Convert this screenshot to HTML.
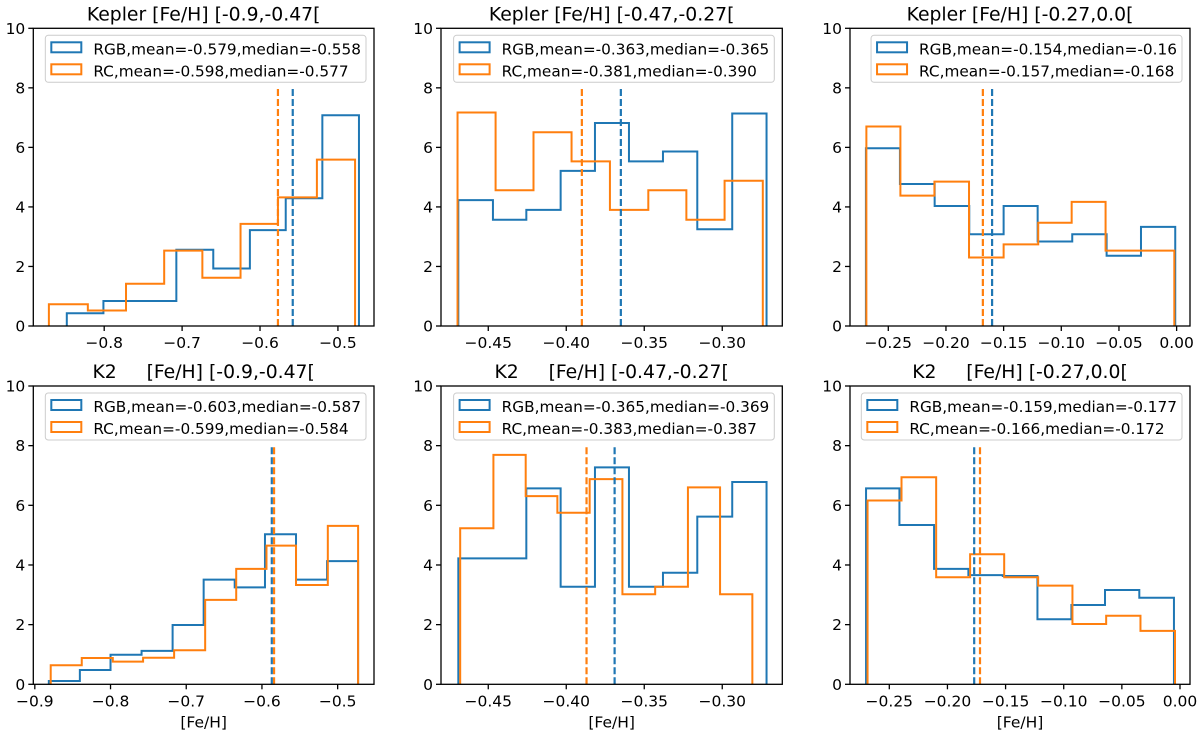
<!DOCTYPE html>
<html><head><meta charset="utf-8"><style>
html,body{margin:0;padding:0;background:#fff;}
svg{display:block;font-family:"DejaVu Sans","Liberation Sans",sans-serif;}
</style></head><body>
<svg id="fig" width="1200" height="733" viewBox="0 0 1200 733" xmlns="http://www.w3.org/2000/svg"></svg>
<script>
// ---- data ----
const panelTitles = ["Kepler [Fe/H] [-0.9,-0.47[", "Kepler [Fe/H] [-0.47,-0.27[", "Kepler [Fe/H] [-0.27,0.0[",
  "K2     [Fe/H] [-0.9,-0.47[", "K2     [Fe/H] [-0.47,-0.27[", "K2     [Fe/H] [-0.27,0.0["];
const xDomains = [[-0.891,-0.4537],[-0.4803,-0.2615],[-0.2832,0.0116],[-0.902,-0.452],[-0.4803,-0.2615],[-0.2838,0.0086]];
const xTicks = [[-0.8,-0.7,-0.6,-0.5],[-0.45,-0.40,-0.35,-0.30],[-0.25,-0.20,-0.15,-0.10,-0.05,0.00],
  [-0.9,-0.8,-0.7,-0.6,-0.5],[-0.45,-0.40,-0.35,-0.30],[-0.25,-0.20,-0.15,-0.10,-0.05,0.00]];
const xTickLabels = [["−0.8","−0.7","−0.6","−0.5"],["−0.45","−0.40","−0.35","−0.30"],["−0.25","−0.20","−0.15","−0.10","−0.05","0.00"],
  ["−0.9","−0.8","−0.7","−0.6","−0.5"],["−0.45","−0.40","−0.35","−0.30"],["−0.25","−0.20","−0.15","−0.10","−0.05","0.00"]];
const yTicks = [0,2,4,6,8,10];
const rgbEdges = [
  [-0.848,-0.801,-0.754,-0.7074,-0.660,-0.613,-0.567,-0.520,-0.473],
  [-0.4692,-0.447,-0.4256,-0.4036,-0.3816,-0.3598,-0.338,-0.316,-0.2936,-0.2716],
  [-0.2694,-0.2399,-0.2098,-0.1798,-0.150,-0.1205,-0.0905,-0.0607,-0.0309,-0.0012],
  [-0.8815,-0.8405,-0.800,-0.759,-0.718,-0.677,-0.636,-0.596,-0.555,-0.514,-0.473],
  [-0.4692,-0.4474,-0.4256,-0.4036,-0.3816,-0.3598,-0.338,-0.316,-0.2936,-0.2716],
  [-0.270,-0.2413,-0.2115,-0.182,-0.1524,-0.1226,-0.0934,-0.0645,-0.035,-0.0052]];
const rgbCounts = [
  [0.43,0.84,0.84,2.56,1.93,3.22,4.29,7.08],
  [4.23,3.57,3.90,5.21,6.82,5.53,5.86,3.25,7.14],
  [5.97,4.77,4.03,3.08,4.03,2.84,3.08,2.36,3.33],
  [0.11,0.48,0.99,1.12,1.99,3.51,3.25,5.03,3.51,4.13],
  [4.22,4.22,6.57,3.27,7.27,3.27,3.74,5.62,6.78],
  [6.57,5.34,3.87,3.66,3.63,2.18,2.66,3.16,2.90]];
const rcEdges = [
  [-0.871,-0.821,-0.772,-0.723,-0.674,-0.625,-0.577,-0.527,-0.478],
  [-0.4697,-0.4453,-0.421,-0.3966,-0.372,-0.3474,-0.323,-0.2985,-0.274],
  [-0.269,-0.2395,-0.210,-0.180,-0.150,-0.120,-0.091,-0.0616,-0.032,-0.002],
  [-0.879,-0.838,-0.797,-0.757,-0.716,-0.675,-0.634,-0.594,-0.555,-0.513,-0.473],
  [-0.468,-0.4467,-0.426,-0.4057,-0.385,-0.364,-0.343,-0.322,-0.3014,-0.2807],
  [-0.2687,-0.2395,-0.2097,-0.1805,-0.1512,-0.122,-0.0925,-0.0635,-0.034,-0.0043]];
const rcCounts = [
  [0.73,0.52,1.42,2.53,1.62,3.43,4.32,5.59],
  [7.17,4.56,6.51,5.53,3.90,4.56,3.57,4.88],
  [6.70,4.38,4.85,2.30,2.74,3.47,4.17,2.53,2.53],
  [0.64,0.88,0.76,0.89,1.14,2.83,3.87,4.65,3.33,5.31],
  [5.23,7.69,6.31,5.75,6.88,3.02,3.27,6.60,3.02],
  [6.16,6.94,3.59,4.36,3.59,3.31,2.02,2.30,1.79]];
const rgbMedians = [-0.558,-0.365,-0.160,-0.587,-0.369,-0.177];
const rcMedians = [-0.577,-0.390,-0.168,-0.584,-0.387,-0.172];
const rgbLegend = ["RGB,mean=-0.579,median=-0.558","RGB,mean=-0.363,median=-0.365","RGB,mean=-0.154,median=-0.16",
  "RGB,mean=-0.603,median=-0.587","RGB,mean=-0.365,median=-0.369","RGB,mean=-0.159,median=-0.177"];
const rcLegend = ["RC,mean=-0.598,median=-0.577","RC,mean=-0.381,median=-0.390","RC,mean=-0.157,median=-0.168",
  "RC,mean=-0.599,median=-0.584","RC,mean=-0.383,median=-0.387","RC,mean=-0.166,median=-0.172"];
const medianLineTop = 8;

// ---- layout ----
const boxes = [[33.3,374,28.3,326],[441,782.3,28.3,326],[850,1190,28.3,326],
  [33.3,374,386,684.3],[441,782.3,386,684.3],[850,1190,386,684.3]];
const BLUE="#1f77b4", ORANGE="#ff7f0e";
const NS="http://www.w3.org/2000/svg";
const svg=document.getElementById('fig');
function mk(tag,attrs,parent){const e=document.createElementNS(NS,tag);for(const k in attrs)e.setAttribute(k,attrs[k]);(parent||svg).appendChild(e);return e;}

boxes.forEach((b,i)=>{
  const [x0,x1,y0,y1]=b;
  const g=mk('g',{});
  
  
  const xs=v=>x0+(v-xDomains[i][0])/(xDomains[i][1]-xDomains[i][0])*(x1-x0);
  const ys=v=>y1-v/10*(y1-y0);
  const t=mk('text',{x:(x0+x1)/2,y:y0-8,'text-anchor':'middle','font-size':'18.8',fill:'#000'},g);
  t.setAttribute('style','white-space:pre');
  t.textContent=panelTitles[i];
  
  
  function step(edges,counts,color,name){
    let d='M'+xs(edges[0])+','+ys(0);
    for(let k=0;k<counts.length;k++){d+=' L'+xs(edges[k])+','+ys(counts[k])+' L'+xs(edges[k+1])+','+ys(counts[k]);}
    d+=' L'+xs(edges[counts.length])+','+ys(0);
    const p=mk('path',{d:d,fill:'none',stroke:color,'stroke-width':2,'stroke-linejoin':'miter'},g);
    
    
  }
  step(rgbEdges[i],rgbCounts[i],BLUE,'rgb-histogram');
  step(rcEdges[i],rcCounts[i],ORANGE,'rc-histogram');
  const mb=mk('line',{x1:xs(rgbMedians[i]),x2:xs(rgbMedians[i]),y1:ys(0),y2:ys(medianLineTop),stroke:BLUE,'stroke-width':2.2,'stroke-dasharray':'7,3'},g);
  
  
  const mo=mk('line',{x1:xs(rcMedians[i]),x2:xs(rcMedians[i]),y1:ys(0),y2:ys(medianLineTop),stroke:ORANGE,'stroke-width':2.2,'stroke-dasharray':'7,3'},g);
  
  
  const fr=mk('rect',{x:x0,y:y0,width:x1-x0,height:y1-y0,fill:'none',stroke:'#000','stroke-width':1.3},g);
  
  
  yTicks.forEach(v=>{
    mk('line',{x1:x0-5,x2:x0,y1:ys(v),y2:ys(v),stroke:'#000','stroke-width':1.3},g);
    const tl=mk('text',{x:x0-8,y:ys(v)+5.5,'text-anchor':'end','font-size':'15.5',fill:'#000'},g);
    tl.textContent=String(v);
    
    
  });
  xTicks[i].forEach((v,k)=>{
    mk('line',{x1:xs(v),x2:xs(v),y1:y1,y2:y1+5,stroke:'#000','stroke-width':1.3},g);
    const tl=mk('text',{x:xs(v),y:y1+22,'text-anchor':'middle','font-size':'15.5',fill:'#000'},g);
    tl.textContent=xTickLabels[i][k];
    
    
  });
  if(i>=3){
    const xl=mk('text',{x:(x0+x1)/2,y:y1+43,'text-anchor':'middle','font-size':'15.5',fill:'#000'},g);
    xl.textContent='[Fe/H]';
    
    
  }
  const lg=mk('g',{},g);
  
  
  const box=mk('rect',{x:0,y:y0+7,width:10,height:47,rx:3,fill:'#fff','fill-opacity':0.8,stroke:'#ccc','stroke-width':1},lg);
  const t1=mk('text',{x:0,y:y0+26,'font-size':'15.3',fill:'#000'},lg);
  t1.textContent=rgbLegend[i];
  
  
  const t2=mk('text',{x:0,y:y0+48,'font-size':'15.3',fill:'#000'},lg);
  t2.textContent=rcLegend[i];
  
  
  const w=Math.max(t1.getComputedTextLength(),t2.getComputedTextLength());
  const bx=x1-8-(w+53);
  box.setAttribute('x',bx);box.setAttribute('width',w+53);
  t1.setAttribute('x',bx+48);t2.setAttribute('x',bx+48);
  mk('rect',{x:bx+6,y:y0+14,width:30,height:10,fill:'none',stroke:BLUE,'stroke-width':2},lg);
  mk('rect',{x:bx+6,y:y0+36,width:30,height:10,fill:'none',stroke:ORANGE,'stroke-width':2},lg);
});
</script>
</body></html>
